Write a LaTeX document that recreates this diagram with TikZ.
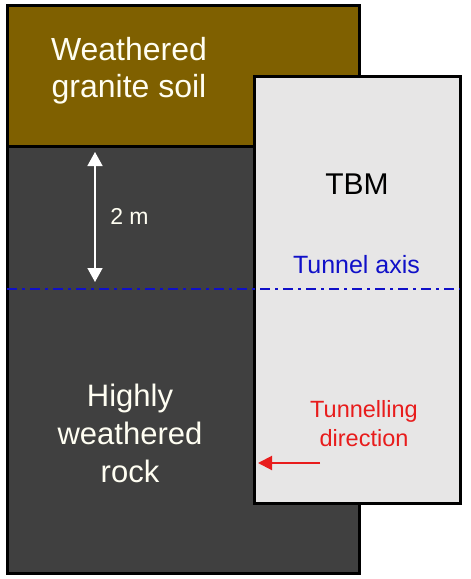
\documentclass[tikz,border=0pt]{standalone}
\usepackage{fontspec}
\setmainfont{Liberation Sans}
\usetikzlibrary{arrows.meta}

\definecolor{soilbrown}{HTML}{7F6000}
\definecolor{rockgray}{HTML}{404040}
\definecolor{tbmgray}{HTML}{E7E6E6}
\definecolor{axisblue}{HTML}{1010C8}
\definecolor{dirred}{HTML}{E81C1C}

\begin{document}
\begin{tikzpicture}[x=1pt, y=-1pt,
    border/.style={draw=black, line width=3pt},
    lighttext/.style={text=white!95!yellow, align=center}]
        \useasboundingbox (0,0) rectangle (471,579);

        % --- Terreno: suelo y roca ---
        \fill[soilbrown] (7,5) rectangle (359,146);
        \fill[rockgray] (7,146) rectangle (359,573);
        \draw[line width=3pt] (7,146) -- (359,146);
        \draw[border] (7,5) rectangle (359,573);

        % --- TBM ---
        \draw[border, fill=tbmgray] (254,76) rectangle (460,503);

        % --- Eje del tunel ---
        \draw[axisblue, line width=2.5pt, dash pattern=on 10pt off 5pt on 3pt off 5pt]
              (7,289) -- (460,289);

        % --- Textos ---
        \node[lighttext, font=\fontsize{32}{37}\selectfont] (Soil) at (129,71) {Weathered\\granite soil};
        \node[lighttext, font=\fontsize{31}{38}\selectfont] (Rock) at (130,433) {Highly\\weathered\\rock};
        \node[font=\fontsize{30}{34}\selectfont] (TBM) at (357,184) {TBM};
        \node[text=axisblue, font=\fontsize{25}{28}\selectfont] (Axis) at (356.5,265) {Tunnel axis};
        \node[text=dirred, align=center, font=\fontsize{23.5}{29}\selectfont] (Direction) at (364,424) {Tunnelling\\direction};
        \node[lighttext, font=\fontsize{23}{26}\selectfont] (Depth) at (129.5,216.5) {2 m};

        % --- Flechas ---
        \coordinate (DepthTop) at (95,152);
        \coordinate (DepthBottom) at (95,282);
        \draw[{Triangle[width=15pt,length=14pt]}-{Triangle[width=15pt,length=14pt]}, white, line width=1.5pt]
              (DepthTop) -- (DepthBottom);
        \coordinate (DirStart) at (320,463);
        \coordinate (DirEnd) at (258,463);
        \draw[-{Triangle[width=14pt,length=14pt]}, dirred, line width=2pt] (DirStart) -- (DirEnd);

    \end{tikzpicture}
\end{document}
